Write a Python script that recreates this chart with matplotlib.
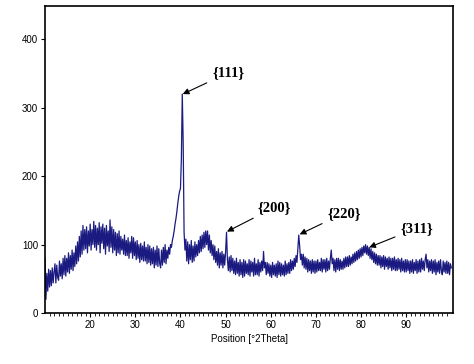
# Imports
import numpy as np
import matplotlib
matplotlib.use("Agg")
import matplotlib.pyplot as plt

# Intensity, 5 points per degree (step 0.2 deg), 10 -> 100 deg
intensity_rows = [
    [80, 20, 58, 32, 64], [38, 62, 40, 66, 44], [60, 72, 44, 70, 52], [48, 76, 54, 72, 50],
    [80, 56, 84, 54, 80], [60, 88, 58, 84, 64], [92, 62, 88, 68, 98], [72, 104, 76, 112, 82],
    [120, 86, 128, 92, 122], [94, 126, 88, 120, 98], [130, 92, 122, 100, 134],
    [96, 128, 92, 124, 100], [132, 88, 126, 102, 130], [94, 124, 86, 128, 98],
    [120, 90, 136, 96, 126], [88, 122, 92, 118, 84], [116, 88, 120, 86, 112],
    [92, 108, 86, 114, 84], [106, 84, 110, 80, 104], [88, 112, 80, 110, 84],
    [104, 78, 106, 80, 100], [74, 102, 78, 98, 76], [104, 76, 96, 72, 100], [74, 98, 70, 94, 72],
    [96, 66, 92, 70, 98], [68, 94, 72, 66, 92], [70, 96, 74, 100, 72], [92, 80, 96, 86, 100],
    [96, 106, 112, 120, 130], [138, 148, 160, 170, 178], [182, 225, 320, 250, 118],
    [92, 108, 76, 104, 72], [100, 78, 106, 74, 98], [76, 104, 82, 100, 84], [106, 88, 112, 90, 114],
    [94, 118, 96, 120, 100], [120, 92, 114, 88, 106], [84, 100, 78, 98, 74], [90, 70, 94, 66, 88],
    [70, 90, 66, 86, 70], [90, 118, 78, 62, 82], [60, 84, 62, 80, 58], [76, 56, 80, 58, 74],
    [54, 78, 56, 74, 52], [78, 54, 76, 58, 72], [56, 78, 54, 76, 60], [74, 54, 80, 56, 72],
    [56, 78, 54, 74, 60], [76, 62, 90, 66, 74], [56, 74, 58, 72, 54], [70, 52, 74, 56, 70],
    [54, 72, 52, 76, 56], [74, 54, 72, 56, 70], [54, 76, 56, 72, 58], [74, 58, 78, 62, 76],
    [64, 80, 68, 84, 74], [94, 114, 98, 78, 86], [70, 86, 66, 82, 64], [80, 60, 78, 62, 76],
    [58, 78, 60, 76, 58], [76, 60, 78, 62, 74], [62, 80, 60, 78, 64], [78, 60, 80, 62, 76],
    [64, 80, 92, 72, 80], [62, 78, 60, 80, 64], [80, 62, 78, 64, 76], [64, 80, 66, 82, 68],
    [82, 68, 84, 70, 82], [72, 86, 74, 88, 76], [90, 78, 92, 80, 94], [82, 96, 84, 98, 88],
    [100, 86, 98, 84, 96], [80, 94, 78, 90, 74], [88, 72, 86, 70, 84], [70, 84, 66, 82, 68],
    [84, 64, 82, 68, 80], [64, 82, 66, 80, 62], [80, 64, 82, 62, 78], [62, 80, 64, 78, 60],
    [80, 62, 76, 60, 78], [60, 78, 62, 76, 58], [76, 60, 78, 58, 74], [62, 78, 58, 76, 60],
    [78, 60, 80, 64, 76], [62, 78, 86, 66, 78], [60, 76, 62, 78, 58], [76, 60, 78, 56, 74],
    [60, 76, 58, 78, 62], [56, 76, 60, 74, 58], [76, 58, 74, 56, 72], [66],
]
intensity = [v for row in intensity_rows for v in row]
two_theta = np.round(10 + 0.2 * np.arange(len(intensity)), 1)

# Peak labels: (text, arrow tip, text position)
peak_labels = ["{111}", "{200}", "{220}", "{311}"]
peak_tips = [(40.5, 320), (50.3, 119), (66.4, 115), (81.8, 96)]
label_pos = [(47.0, 351), (57.0, 154), (72.5, 146), (88.7, 124)]

fig = plt.figure(figsize=(4.74, 3.64), dpi=100)
ax = fig.add_axes([0.095, 0.14, 0.861, 0.844])

ax.plot(two_theta, intensity, color='#1a1a80', lw=0.9)

for lab, tip, pos in zip(peak_labels, peak_tips, label_pos):
    ax.annotate(lab, xy=tip, xytext=pos, fontsize=10.5, fontweight='bold',
                family='Liberation Serif', va='center', ha='left',
                arrowprops=dict(arrowstyle='-|>', color='black', lw=0.8,
                                mutation_scale=9, shrinkA=2, shrinkB=0))

ax.set_xlim(10, 100.4)
ax.set_ylim(0, 449)
ax.set_xticks(range(20, 100, 10))
ax.set_xticks(range(11, 100), minor=True)
ax.set_yticks([0, 100, 200, 300, 400])
ax.tick_params(axis='both', labelsize=7, width=0.8, length=3, pad=2)
ax.tick_params(axis='x', which='minor', length=2, width=0.6)
for s in ax.spines.values():
    s.set_linewidth(1.2)
for t in ax.get_xticklabels() + ax.get_yticklabels():
    t.set_family('Liberation Sans')

ax.set_xlabel('Position [°2Theta]', fontsize=7, labelpad=3, family='Liberation Sans')

fig.savefig('out.png', dpi=100)
